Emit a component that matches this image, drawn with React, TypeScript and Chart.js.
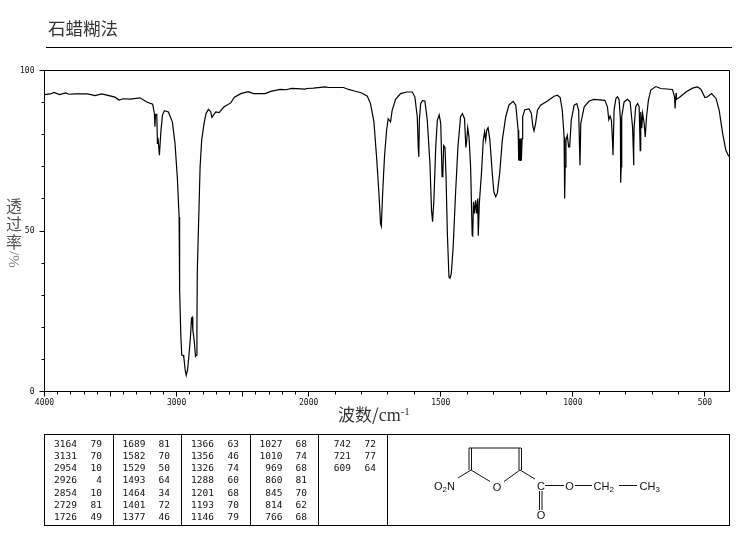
import React, { useEffect, useRef } from "react";
import { Chart, registerables } from "chart.js";

Chart.register(...registerables);

const wavenumbers = [
  4000, 3957, 3927, 3887, 3839, 3814, 3769, 3675, 3617, 3567, 3504, 3466, 3436, 3403, 3352, 3277, 3226, 3181, 3168, 3164, 3160, 3150, 3145, 3141, 3130, 3120, 3107, 3092, 3062, 3032, 3012, 2994, 2981, 2978, 2976, 2968, 2961, 2950, 2945, 2935, 2927, 2917, 2907, 2895, 2887, 2882, 2877, 2867, 2857, 2852, 2846, 2843, 2841, 2830, 2822, 2810, 2792, 2777, 2759, 2741, 2733, 2721, 2703, 2678, 2640, 2590, 2562, 2514, 2456, 2418, 2330, 2287, 2216, 2171, 2128, 2027, 2014, 1982, 1937, 1925, 1868, 1849, 1830, 1799, 1784, 1778, 1766, 1753, 1743, 1734, 1728, 1725, 1720, 1713, 1705, 1699, 1694, 1690, 1684, 1671, 1652, 1629, 1608, 1598, 1589, 1585, 1583, 1581, 1576, 1569, 1560, 1551, 1541, 1535, 1531, 1526, 1519, 1513, 1506, 1500, 1495, 1492, 1489, 1484, 1480, 1475, 1469, 1465, 1460, 1453, 1444, 1435, 1425, 1418, 1410, 1405, 1402, 1398, 1393, 1387, 1381, 1379, 1376, 1372, 1368, 1364, 1360, 1358, 1354, 1346, 1339, 1334, 1330, 1326, 1321, 1314, 1305, 1299, 1292, 1286, 1277, 1267, 1254, 1242, 1226, 1216, 1207, 1205, 1202, 1200, 1197, 1195, 1192, 1190, 1182, 1166, 1157, 1151, 1147, 1141, 1134, 1122, 1096, 1071, 1058, 1048, 1040, 1033, 1031, 1029, 1026, 1021, 1016, 1012, 1006, 995, 985, 978, 973, 970, 957, 938, 920, 879, 869, 864, 859, 854, 850, 848, 844, 837, 831, 825, 820, 819, 817, 815, 806, 793, 783, 774, 771, 770, 769, 768, 762, 755, 749, 745, 743, 739, 736, 730, 726, 721, 714, 705, 686, 667, 623, 615, 613, 609, 608, 597, 572, 547, 528, 515, 500, 490, 475, 458, 446, 433, 421, 412, 407,
];

const transmittance = [
  92.5, 92.7, 93.2, 92.5, 93.0, 92.6, 92.7, 92.7, 92.2, 92.7, 92.1, 91.7, 90.8, 91.2, 91.1, 91.5, 90.2, 89.5, 86.6, 82.5, 86.0, 86.3, 77.3, 79, 73.6, 80.4, 86.1, 87.5, 87.1, 84, 77.3, 66.4, 54.4, 37.8, 31.6, 17.6, 11.3, 11.3, 10.6, 6.7, 5, 6.7, 11, 17, 22.8, 23.1, 19.1, 16, 11, 11.3, 20.7, 37.8, 37.8, 57.6, 70, 78.3, 83.5, 86.6, 87.9, 87.1, 85.4, 86.1, 87.1, 86.9, 88.7, 89.9, 91.7, 92.8, 93.4, 92.8, 92.8, 93.5, 94.1, 94, 94.4, 94.2, 94.4, 94.5, 94.9, 94.7, 94.7, 94.1, 93.7, 93, 92.3, 92, 89.7, 84, 73.1, 61.7, 52.3, 51.5, 61.7, 73.1, 81.4, 85, 84.5, 84, 87.6, 91, 92.8, 93.3, 93.3, 91.8, 85.6, 75.7, 73.1, 84.5, 89.7, 90.6, 90.5, 84.5, 71, 56.5, 52.9, 59.6, 76.2, 84.5, 86.2, 83.5, 66.9, 68, 76.6, 76, 66.9, 49.2, 35.7, 35.3, 36.8, 45.1, 61.7, 76.2, 85.6, 86.6, 85, 76, 78, 82.2, 79.3, 70, 48.7, 48.5, 59.1, 55.5, 59.6, 55.5, 60.1, 48.5, 58.6, 67.9, 78.3, 80.9, 78.3, 81.4, 82.2, 78.3, 67.9, 62.2, 60.7, 61.7, 67.9, 78.3, 85.6, 89.2, 90.4, 89.2, 81.4, 72, 78.8, 72, 78.8, 72, 78.8, 85.6, 87.8, 88, 86.6, 82.4, 81.2, 83.5, 87.6, 89.2, 90.5, 92, 92.3, 91.6, 87.6, 79.3, 60.1, 70, 78.3, 79.8, 76.2, 76.2, 84.5, 89.2, 89.7, 87.6, 70.5, 83.5, 88.7, 90.5, 91, 90.7, 88.7, 84.7, 85.8, 84.5, 78.3, 73.6, 87.6, 91.3, 91.8, 91, 85, 65, 70, 85.6, 90.2, 91, 90.2, 82.4, 75, 70.5, 75, 82.4, 88.7, 89.7, 88.7, 75, 87.1, 82, 86.6, 83.5, 79.3, 85.6, 90.7, 93.9, 95, 94.4, 94.1, 91.8, 88.2, 93, 91, 91.6, 93.3, 94.5, 94.9, 94.1, 91.6, 91.8, 92.8, 91.3, 87.6, 80.4, 75.2, 73.6, 73.1,
];

const majorTicks = [4000, 3500, 3000, 2500, 2000, 1500, 1000, 500];
const labelledTicks = [4000, 3000, 2000, 1500, 1000, 500];
const minorTicks = [3900, 3800, 3700, 3600, 3400, 3300, 3200, 3100, 2900, 2800, 2700, 2600, 2400, 2300, 2200, 2100, 1900, 1800, 1700, 1600, 1400, 1300, 1200, 1100, 900, 800, 700, 600];
const yMinorTicks = [10, 20, 30, 40, 60, 70, 80, 90];

const peakColumns: [string, string][][] = [
  [["3164", "79"], ["3131", "70"], ["2954", "10"], ["2926", "4"], ["2854", "10"], ["2729", "81"], ["1726", "49"]],
  [["1689", "81"], ["1582", "70"], ["1529", "50"], ["1493", "64"], ["1464", "34"], ["1401", "72"], ["1377", "46"]],
  [["1366", "63"], ["1356", "46"], ["1326", "74"], ["1288", "60"], ["1201", "68"], ["1193", "70"], ["1146", "79"]],
  [["1027", "68"], ["1010", "74"], ["969", "68"], ["860", "81"], ["845", "70"], ["814", "62"], ["766", "68"]],
  [["742", "72"], ["721", "77"], ["609", "64"]],
];

// the abscissa changes scale at 2000 cm-1: 4000-2000 takes half the room per unit
const toAxis = (wn: number) => (wn >= 2000 ? (4000 - wn) / 2 : 1000 + (2000 - wn));
const fromAxis = (u: number) => (u <= 1000 ? 4000 - u * 2 : 2000 - (u - 1000));

const MONO = '"DejaVu Sans Mono", monospace';
const CJK = '"Noto Sans CJK SC", sans-serif';
const SERIF = '"Liberation Serif", serif';

const frameAndMinorTicks = {
  id: "frameAndMinorTicks",
  afterDraw(chart: any) {
    const { ctx, chartArea: a, scales } = chart;
    ctx.save();
    ctx.strokeStyle = "#000";
    ctx.lineWidth = 1;
    const snap = (v: number) => Math.round(v - 0.5) + 0.5;
    ctx.beginPath();
    ctx.moveTo(snap(a.left), snap(a.top));
    ctx.lineTo(snap(a.right), snap(a.top));
    ctx.lineTo(snap(a.right), snap(a.bottom));
    for (const t of minorTicks) {
      const x = snap(scales.x.getPixelForValue(toAxis(t)));
      ctx.moveTo(x, snap(a.bottom));
      ctx.lineTo(x, snap(a.bottom) + 3);
    }
    for (const t of yMinorTicks) {
      const y = snap(scales.y.getPixelForValue(t));
      ctx.moveTo(snap(a.left), y);
      ctx.lineTo(snap(a.left) - 3, y);
    }
    ctx.stroke();
    ctx.restore();
  },
};

const abs = (left: number, top: number, extra: React.CSSProperties = {}): React.CSSProperties => ({
  position: "absolute",
  left,
  top,
  whiteSpace: "nowrap",
  ...extra,
});

const columnEdges = [44, 113, 181, 250, 318, 387];
const wnRight = [77, 145.5, 214, 282.5, 351];
const tRight = [102, 170, 239, 307, 376];

function PeakTable() {
  return (
    <>
      <div style={abs(44, 434, { width: 684, height: 90, border: "1px solid #000", boxSizing: "content-box" })} />
      {columnEdges.slice(1).map((x) => (
        <div key={x} style={abs(x, 434, { width: 1, height: 92, background: "#000" })} />
      ))}
      {peakColumns.map((col, c) =>
        col.map(([wn, t], r) => (
          <React.Fragment key={`${c}-${r}`}>
            <span style={abs(wnRight[c] - 40, 437.5 + r * 12.33, { width: 40, textAlign: "right", font: `9.5px ${MONO}`, lineHeight: "12px", color: "#111" })}>{wn}</span>
            <span style={abs(tRight[c] - 20, 437.5 + r * 12.33, { width: 20, textAlign: "right", font: `9.5px ${MONO}`, lineHeight: "12px", color: "#111" })}>{t}</span>
          </React.Fragment>
        ))
      )}
    </>
  );
}

function Molecule() {
  const f = { fontFamily: '"Liberation Sans", sans-serif', fontSize: 11, fill: "#111" };
  const sub = { fontSize: 8 };
  const lines = [
    [469, 448, 521, 448], [469, 448, 469, 470], [471.5, 448, 471.5, 470], [519, 448, 519, 470], [521.5, 448, 521.5, 470],
    [471, 470, 490, 481.5], [504, 481.5, 520, 470], [520, 470, 535, 479], [458, 478, 471, 470],
    [545, 485.5, 564, 485.5], [575, 485.5, 592, 485.5], [619, 485.5, 637, 485.5],
    [539.5, 491, 539.5, 510], [542, 491, 542, 510],
  ];
  return (
    <svg width={737} height={539} style={{ position: "absolute", left: 0, top: 0 }}>
      {lines.map((l, i) => (
        <line key={i} x1={l[0]} y1={l[1]} x2={l[2]} y2={l[3]} stroke="#111" strokeWidth={1} />
      ))}
      <text x={434} y={490} {...f}>O<tspan dy={2} {...sub}>2</tspan><tspan dy={-2}>N</tspan></text>
      <text x={497} y={491} textAnchor="middle" {...f}>O</text>
      <text x={541} y={490} textAnchor="middle" {...f}>C</text>
      <text x={569.5} y={490} textAnchor="middle" {...f}>O</text>
      <text x={593.5} y={490} {...f}>CH<tspan dy={2} {...sub}>2</tspan></text>
      <text x={639.5} y={490} {...f}>CH<tspan dy={2} {...sub}>3</tspan></text>
      <text x={541} y={519} textAnchor="middle" {...f}>O</text>
    </svg>
  );
}

const yTitleChars = ["透", "过", "率"];

export default function App() {
  const ref = useRef<HTMLCanvasElement>(null);

  useEffect(() => {
    const chart = new Chart(ref.current!, {
      type: "line",
      data: {
        datasets: [
          {
            data: wavenumbers.map((wn, i) => ({ x: toAxis(wn), y: transmittance[i] })),
            borderColor: "#000",
            borderWidth: 1.2,
            pointRadius: 0,
            tension: 0,
            fill: false,
          },
        ],
      },
      plugins: [frameAndMinorTicks],
      options: {
        animation: false,
        responsive: false,
        devicePixelRatio: 1,
        layout: { padding: { left: 0, top: 70.5, right: 7.5, bottom: 0 } },
        plugins: { legend: { display: false }, tooltip: { enabled: false } },
        scales: {
          x: {
            type: "linear",
            min: 0,
            max: toAxis(407),
            border: { color: "#000", width: 1 },
            grid: { drawOnChartArea: false, drawTicks: true, tickLength: 5, tickColor: "#000" },
            afterBuildTicks: (s: any) => {
              s.ticks = majorTicks.map((t) => ({ value: toAxis(t) }));
            },
            afterFit: (s: any) => {
              s.height = 147.5;
            },
            ticks: {
              autoSkip: false,
              maxRotation: 0,
              minRotation: 0,
              padding: 2,
              color: "#111",
              font: { family: "DejaVu Sans Mono", size: 8 },
              callback: (v: any) => {
                const wn = Math.round(fromAxis(Number(v)));
                return labelledTicks.includes(wn) ? String(wn) : "";
              },
            },
          },
          y: {
            min: 0,
            max: 100,
            border: { color: "#000", width: 1 },
            grid: { drawOnChartArea: false, drawTicks: true, tickLength: 5, tickColor: "#000" },
            afterFit: (s: any) => {
              s.width = 44.5;
            },
            ticks: {
              stepSize: 50,
              padding: 5,
              color: "#111",
              font: { family: "DejaVu Sans Mono", size: 8 },
            },
          },
        },
      },
    } as any);
    return () => chart.destroy();
  }, []);

  return (
    <div style={{ position: "absolute", left: 0, top: 0, width: 737, height: 539, background: "#fff", overflow: "hidden" }}>
      <canvas ref={ref} width={737} height={539} style={{ position: "absolute", left: 0, top: 0 }} />
      <span style={abs(48, 17, { font: `17.5px ${CJK}`, lineHeight: "22px", color: "#333" })}>石蜡糊法</span>
      <div style={abs(46, 47, { width: 686, height: 1, background: "#000" })} />
      {yTitleChars.map((ch, i) => (
        <span key={ch} style={abs(6, 196 + i * 18, { font: `16px ${CJK}`, lineHeight: "18px", color: "#555" })}>{ch}</span>
      ))}
      <span style={abs(6, 251, { font: `15px ${SERIF}`, lineHeight: "16px", writingMode: "vertical-rl", color: "#888" })}>/%</span>
      <span style={abs(338, 404, { font: `17px ${CJK}`, lineHeight: "20px", color: "#333" })}>
        波数/<span style={{ fontFamily: SERIF, fontSize: 18 }}>cm</span>
        <span style={{ fontFamily: SERIF, fontSize: 11, position: "relative", top: -6 }}>-1</span>
      </span>
      <PeakTable />
      <Molecule />
    </div>
  );
}
